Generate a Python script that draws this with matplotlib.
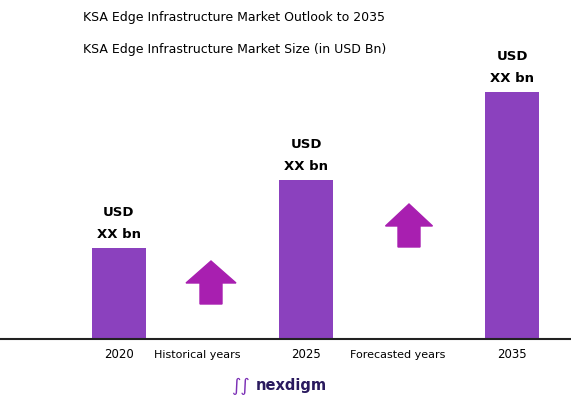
import matplotlib
matplotlib.use("Agg")
import matplotlib.pyplot as plt
from matplotlib.patches import Polygon

years = ["2020", "2025", "2035"]
values = [91, 159, 247]
bar_labels = ["USD\nXX bn", "USD\nXX bn", "USD\nXX bn"]
period_labels = ["Historical years", "Forecasted years"]

W, H = 571, 402
fig = plt.figure(figsize=(W/100, H/100), dpi=100)
base = 340
ax = fig.add_axes([0, (H-base)/H, 1, base/H])
ax.set_xlim(0, W); ax.set_ylim(0, base)
ax.axis("off")

xs = [119, 306, 512]
bw = 54
bar_color = "#8B41BE"
ax.bar(xs, values, width=bw, color=bar_color)
ax.plot([0, W], [0, 0], color="#222222", lw=1.5, clip_on=False)
for x, v, t in zip(xs, values, bar_labels):
    ax.text(x, v + 8, t, ha="center", va="bottom", fontsize=9.5, fontweight="bold",
            linespacing=1.9, family="DejaVu Sans")

def arrow(cx, y0, y1, w=50, sw=22, head=22, color="#A81FB0"):
    pts = [(cx - sw/2, y0), (cx + sw/2, y0), (cx + sw/2, y1 - head), (cx + w/2, y1 - head),
           (cx, y1), (cx - w/2, y1 - head), (cx - sw/2, y1 - head)]
    ax.add_patch(Polygon(pts, closed=True, color=color))

arrow(211, base-305, base-262)
arrow(409, base-248, base-205, w=47)

fs = fig.text
for x, t in zip(xs, years):
    fs(x/W, 1 - 355/H, t, ha="center", va="center", fontsize=8.5)
fs(197/W, 1 - 355/H, period_labels[0], ha="center", va="center", fontsize=8)
fs(398/W, 1 - 355/H, period_labels[1], ha="center", va="center", fontsize=8)
fs(83/W, 1 - 18/H, "KSA Edge Infrastructure Market Outlook to 2035", ha="left", va="center", fontsize=9)
fs(83/W, 1 - 50/H, "KSA Edge Infrastructure Market Size (in USD Bn)", ha="left", va="center", fontsize=9)
fs(240/W, 1 - 386/H, "\u222b\u222b", ha="center", va="center", fontsize=13, color="#7B2FB5")
fs(256/W, 1 - 386/H, "nexdigm", ha="left", va="center", fontsize=10.5, color="#2A1A5E", fontweight="bold")

fig.savefig("out.png", dpi=100)
